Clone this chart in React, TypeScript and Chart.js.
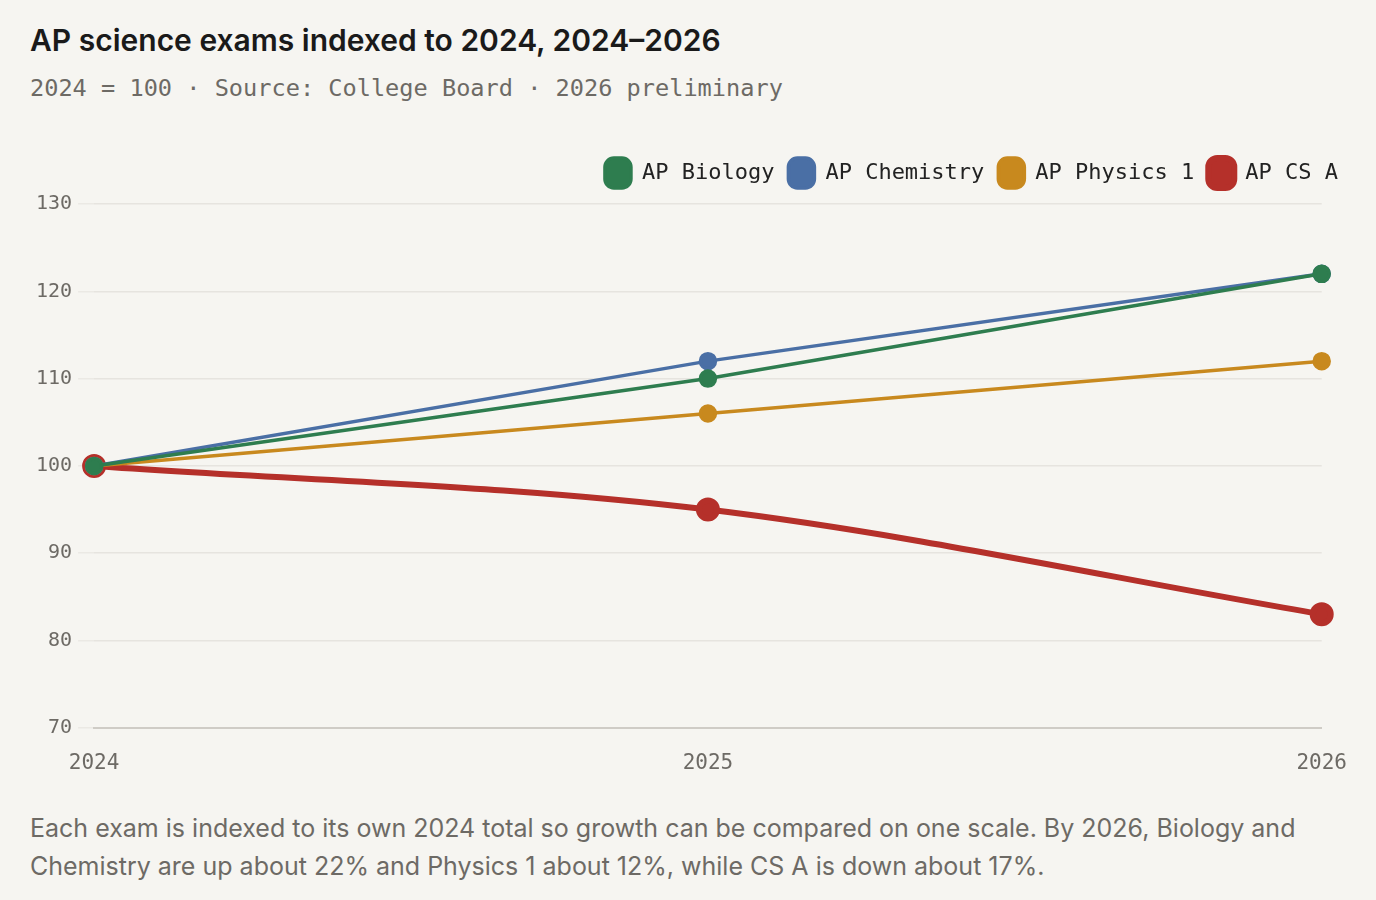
import React, { useEffect, useRef } from "react";
import Chart from "chart.js/auto";

const years = ["2024", "2025", "2026"];
const biology = [100, 110, 122];
const chemistry = [100, 112, 122];
const physics1 = [100, 106, 112];
const csA = [100, 95, 83];
const yTicks = [70, 80, 90, 100, 110, 120, 130];

const BG = "#f6f5f1";
const MONO = "'DejaVu Sans Mono', 'Liberation Mono', monospace";
const SANS = "Inter, 'Noto Sans', sans-serif";
const MUTED = "#6d6a65";

// pushes the plot down a little below the legend
const legendGap = {
  id: "legendGap",
  beforeInit(chart: any) {
    const fit = chart.legend.fit;
    chart.legend.fit = function () {
      fit.bind(chart.legend)();
      this.height += 6;
    };
  },
};

export default function App() {
  const canvasRef = useRef<HTMLCanvasElement | null>(null);

  useEffect(() => {
    document.body.style.margin = "0";
    document.body.style.background = BG;
    if (!canvasRef.current) return;

    const chart = new Chart(canvasRef.current, {
      type: "line",
      data: {
        labels: years,
        datasets: [
          {
            label: "AP Biology",
            data: biology,
            borderColor: "#2e7d4f",
            backgroundColor: "#2e7d4f",
            borderWidth: 3.5,
            pointRadius: 7.5,
            tension: 0,
          },
          {
            label: "AP Chemistry",
            data: chemistry,
            borderColor: "#4a6fa5",
            backgroundColor: "#4a6fa5",
            borderWidth: 3.5,
            pointRadius: 7.5,
            tension: 0,
          },
          {
            label: "AP Physics 1",
            data: physics1,
            borderColor: "#c8891e",
            backgroundColor: "#c8891e",
            borderWidth: 3.5,
            pointRadius: 7.5,
            tension: 0,
          },
          {
            label: "AP CS A",
            data: csA,
            borderColor: "#b5302a",
            backgroundColor: "#b5302a",
            borderWidth: 6,
            pointRadius: 9,
            cubicInterpolationMode: "monotone",
          },
        ],
      },
      options: {
        responsive: true,
        maintainAspectRatio: false,
        animation: false,
        layout: { padding: 0 },
        plugins: {
          legend: {
            position: "top",
            align: "end",
            labels: {
              boxWidth: 26,
              boxHeight: 30,
              useBorderRadius: true,
              borderRadius: 9,
              padding: 14,
              color: "#222",
              font: { family: MONO, size: 22 },
            },
          },
          tooltip: { enabled: false },
        },
        scales: {
          x: {
            grid: {
              display: true,
              drawOnChartArea: false,
              drawTicks: true,
              tickLength: 18,
              tickColor: "rgba(0,0,0,0)",
            },
            border: { color: "#cfccc6", width: 2 },
            ticks: {
              color: MUTED,
              padding: 5,
              font: { family: MONO, size: 21 },
              maxRotation: 0,
            },
          },
          y: {
            min: 70,
            max: 130,
            afterBuildTicks: (axis) => {
              axis.ticks = yTicks.map((v) => ({ value: v }));
            },
            grid: {
              color: "#e6e4df",
              lineWidth: 1.5,
              tickLength: 16,
              tickColor: "#ebe9e4",
            },
            border: { display: false },
            ticks: {
              color: MUTED,
              padding: 6,
              font: { family: MONO, size: 20 },
            },
          },
        },
      },
      plugins: [legendGap],
    });

    return () => {
      chart.destroy();
    };
  }, []);

  return (
    <div style={{ background: BG, width: 1376, height: 900, position: "relative", overflow: "hidden" }}>
      <div
        style={{
          position: "absolute",
          left: 30,
          top: 20,
          fontFamily: SANS,
          fontWeight: 600,
          fontSize: 30,
          color: "#1a1a1a",
          lineHeight: "40px",
        }}
      >
        AP science exams indexed to 2024, 2024–2026
      </div>
      <div
        style={{
          position: "absolute",
          left: 30,
          top: 72,
          fontFamily: MONO,
          fontSize: 23.6,
          color: MUTED,
          lineHeight: "32px",
        }}
      >
        2024 = 100 · Source: College Board · 2026 preliminary
      </div>
      <div style={{ position: "absolute", left: 30, top: 144, width: 1322, height: 637 }}>
        <canvas ref={canvasRef} />
      </div>
      <div
        style={{
          position: "absolute",
          left: 30,
          top: 809,
          width: 1320,
          fontFamily: SANS,
          fontSize: 25,
          color: MUTED,
          lineHeight: "38px",
        }}
      >
        Each exam is indexed to its own 2024 total so growth can be compared on one scale. By 2026, Biology and
        Chemistry are up about 22% and Physics 1 about 12%, while CS A is down about 17%.
      </div>
    </div>
  );
}
